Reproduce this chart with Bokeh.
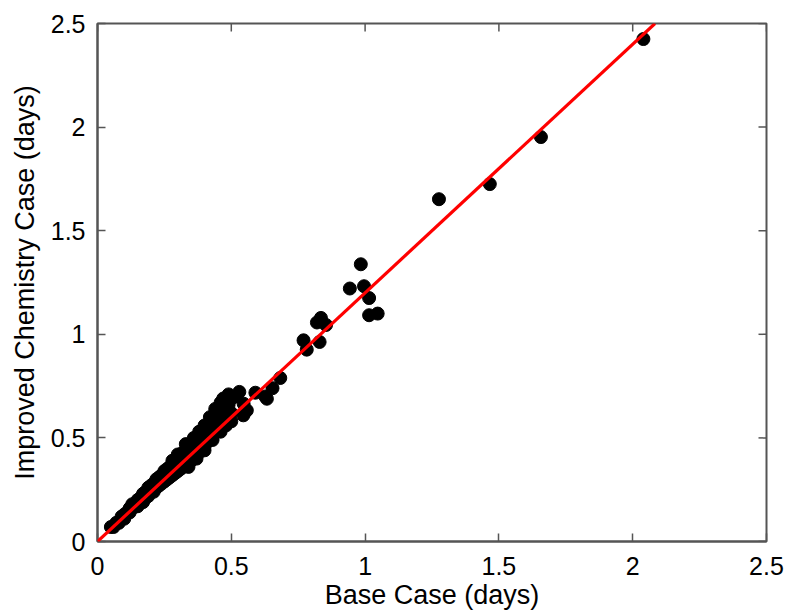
import math
from bokeh.plotting import figure
from bokeh.models import Range1d, FixedTicker, Slope
from bokeh.embed import file_html
from bokeh.resources import INLINE

# Base case (x) vs improved chemistry case (y), days
base_case = [
    0.05, 0.06, 0.07, 0.08, 0.09, 0.10, 0.10, 0.11, 0.12, 0.12,
    0.13, 0.13, 0.14, 0.15, 0.15, 0.16, 0.16, 0.17, 0.17, 0.18,
    0.18, 0.19, 0.19, 0.20, 0.20, 0.21, 0.21, 0.22, 0.22, 0.23,
    0.23, 0.24, 0.24, 0.25, 0.25, 0.26, 0.26, 0.27, 0.27, 0.28,
    0.28, 0.29, 0.29, 0.30, 0.30, 0.31, 0.31, 0.32, 0.32, 0.33,
    0.33, 0.34, 0.34, 0.35, 0.35, 0.36, 0.36, 0.37, 0.37, 0.38,
    0.38, 0.39, 0.39, 0.40, 0.40, 0.41, 0.41, 0.42, 0.42, 0.43,
    0.43, 0.44, 0.44, 0.45, 0.45, 0.46, 0.46, 0.47, 0.47, 0.48,
    0.48, 0.49, 0.50, 0.50, 0.52, 0.53, 0.545, 0.558, 0.546, 0.552,
    0.28, 0.30, 0.33, 0.36, 0.38, 0.40, 0.42, 0.44, 0.46, 0.47,
    0.49, 0.51, 0.34, 0.37, 0.40, 0.43, 0.46, 0.48, 0.50,
    0.59, 0.627, 0.633, 0.654, 0.683,
    0.770, 0.782, 0.830, 0.820, 0.835, 0.854,
    0.943, 0.984, 0.996, 1.015, 1.015, 1.047,
    1.276, 1.466, 1.657, 2.040,
]
improved_case = [
    0.07, 0.07, 0.09, 0.09, 0.12, 0.11, 0.13, 0.14, 0.14, 0.16,
    0.16, 0.18, 0.17, 0.20, 0.17, 0.19, 0.21, 0.23, 0.19, 0.21,
    0.24, 0.26, 0.22, 0.24, 0.27, 0.28, 0.24, 0.26, 0.30, 0.31,
    0.27, 0.28, 0.32, 0.34, 0.29, 0.30, 0.35, 0.36, 0.31, 0.32,
    0.37, 0.39, 0.33, 0.34, 0.40, 0.42, 0.35, 0.36, 0.43, 0.44,
    0.37, 0.38, 0.46, 0.47, 0.39, 0.40, 0.48, 0.49, 0.42, 0.43,
    0.50, 0.52, 0.45, 0.46, 0.54, 0.55, 0.48, 0.49, 0.57, 0.59,
    0.51, 0.53, 0.62, 0.63, 0.55, 0.56, 0.65, 0.67, 0.58, 0.60,
    0.69, 0.66, 0.69, 0.62, 0.70, 0.722, 0.609, 0.633, 0.665, 0.625,
    0.39, 0.42, 0.47, 0.50, 0.53, 0.56, 0.60, 0.64, 0.67, 0.69,
    0.71, 0.70, 0.36, 0.40, 0.44, 0.49, 0.53, 0.56, 0.58,
    0.718, 0.700, 0.689, 0.740, 0.789,
    0.971, 0.926, 0.963, 1.057, 1.079, 1.045,
    1.221, 1.338, 1.232, 1.175, 1.092, 1.100,
    1.652, 1.725, 1.952, 2.425,
]
fit_slope = 1.2
ticks = [0, 0.5, 1, 1.5, 2, 2.5]
tick_labels = ["0", "0.5", "1", "1.5", "2", "2.5"]
axis_max = 2.5

FONT = "Liberation Sans"
GRAY = "#555555"

p = figure(width=789, height=613, output_backend="svg", toolbar_location=None,
           x_range=Range1d(0, axis_max), y_range=Range1d(0, axis_max),
           min_border_left=97, min_border_right=23, min_border_top=23, min_border_bottom=72)
p.background_fill_color = "white"
p.border_fill_color = "white"
p.outline_line_color = GRAY
p.outline_line_width = 2
p.grid.visible = False

overrides = {t: l for t, l in zip(ticks, tick_labels)}

for ax in (p.xaxis[0], p.yaxis[0]):
    ax.ticker = FixedTicker(ticks=ticks)
    ax.major_label_overrides = overrides
    ax.minor_tick_line_color = None
    ax.major_tick_in = 8
    ax.major_tick_out = 0
    ax.axis_line_color = GRAY
    ax.axis_line_width = 2
    ax.major_tick_line_color = GRAY
    ax.major_tick_line_width = 1.5
    ax.major_label_text_font = FONT
    ax.major_label_text_font_size = "25px"
    ax.major_label_text_color = "black"
    ax.axis_label_text_font = FONT
    ax.axis_label_text_font_size = "27px"
    ax.axis_label_text_font_style = "normal"
    ax.axis_label_text_color = "black"

p.xaxis[0].axis_label = "Base Case (days)"
p.yaxis[0].axis_label = "Improved Chemistry Case (days)"
p.xaxis[0].major_label_standoff = 15
p.xaxis[0].axis_label_standoff = 2
p.yaxis[0].major_label_standoff = 12
p.yaxis[0].axis_label_standoff = 8

# inward ticks along top and right edges (clipped to the frame)
p.scatter(ticks, [axis_max] * len(ticks), marker="dash", size=16, angle=math.pi / 2,
          line_color=GRAY, line_width=1.5)
p.scatter([axis_max] * len(ticks), ticks, marker="dash", size=16, angle=0,
          line_color=GRAY, line_width=1.5)

p.scatter(base_case, improved_case, size=13, marker="circle",
          fill_color="black", line_color="black")

p.add_layout(Slope(gradient=fit_slope, y_intercept=0, line_color="#ff0000", line_width=3.2))

open("out.html", "w").write(file_html(p, INLINE))
